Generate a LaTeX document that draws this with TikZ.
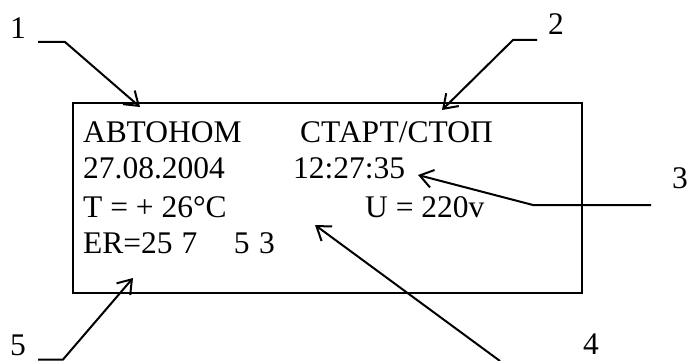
\documentclass[tikz,border=0pt]{standalone}
\usepackage{fontspec}
\setmainfont{Liberation Serif}
\usetikzlibrary{arrows.meta}

\tikzset{
	display/.style={anchor=base west, inner sep=0pt, font=\fontsize{31.5}{36}\selectfont},
	callout/.style={anchor=center, inner sep=0pt, font=\fontsize{31.5}{36}\selectfont},
	leader/.style={line width=2pt, -{Straight Barb[length=13pt,width=18pt,line width=2pt]}}
}

\begin{document}
\begin{tikzpicture}[x=1pt, y=-1pt]

	\useasboundingbox (0,0) rectangle (688,361);

	%display frame
	\draw[line width=1.8pt] (73,103) rectangle (582,293);

	%display lines
	\node[display] (mode) at (83,142) {АВТОНОМ};
	\node[display] (start) at (300,142) {СТАРТ/СТОП};
	\node[display] (date) at (83,178) {27.08.2004};
	\node[display] (time) at (293,178) {12:27:35};
	\node[display] (temp) at (83,217) {T = + 26°C};
	\node[display] (volt) at (365,217) {U = 220v};
	\node[display] (err) at (83,253) {ER=25\hspace{9pt}7\hspace{36.5pt}5\hspace{9.5pt}3};

	%callout numbers
	\node[callout] (n1) at (18,28) {1};
	\node[callout] (n2) at (556,24) {2};
	\node[callout] (n3) at (680,178) {3};
	\node[callout] (n4) at (591,344) {4};
	\node[callout] (n5) at (18,345) {5};

	%leader ends
	\coordinate (s1) at (38,42);
	\coordinate (k1) at (65,42);
	\coordinate (t1) at (140,107);
	\coordinate (s2) at (537,40);
	\coordinate (k2) at (513,40);
	\coordinate (t2) at (442,110);
	\coordinate (s3) at (651,205);
	\coordinate (k3) at (533,205);
	\coordinate (t3) at (418,175);
	\coordinate (s4) at (500,361);
	\coordinate (t4) at (315,225);
	\coordinate (s5) at (38,359.5);
	\coordinate (k5) at (63,359.5);
	\coordinate (t5) at (133,278);

	%leaders
	\draw[leader] (s1) -- (k1) -- (t1);
	\draw[leader] (s2) -- (k2) -- (t2);
	\draw[leader] (s3) -- (k3) -- (t3);
	\draw[leader] (s4) -- (t4);
	\draw[leader] (s5) -- (k5) -- (t5);

\end{tikzpicture}
\end{document}
